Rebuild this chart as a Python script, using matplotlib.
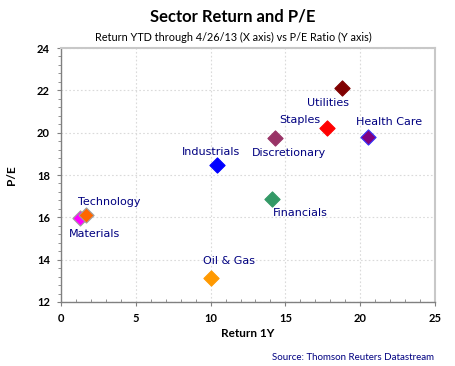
import matplotlib
matplotlib.use("Agg")
import matplotlib.pyplot as plt
from matplotlib.ticker import MultipleLocator

sectors = ["Materials", "Technology", "Industrials", "Oil & Gas", "Discretionary",
           "Financials", "Staples", "Utilities", "Health Care"]
ret_1y = [1.3, 1.7, 10.4, 10.0, 14.3, 14.1, 17.8, 18.8, 20.5]
pe = [15.95, 16.1, 18.45, 13.15, 19.75, 16.85, 20.2, 22.1, 19.8]
face_colors = ["#FF00FF", "#FF6600", "#0000FF", "#FF9900", "#993366",
               "#339966", "#FF0000", "#800000", "#800080"]
edge_colors = ["#A0A0A0", "#A0A0A0", "#0000FF", "#FF9900", "#993366",
               "#339966", "#FF0000", "#800000", "#3333FF"]
# label offsets in pixels (dx, dy) relative to each point
label_offsets = [(14, -16), (23, 13), (-6, 13), (18, 17), (14, -15),
                 (28, -14), (-27, 8), (-14, -15), (21, 15)]

title = "Sector Return and P/E"
subtitle = "Return YTD through 4/26/13 (X axis) vs P/E Ratio (Y axis)"
xlabel = "Return 1Y"
ylabel = "P/E"
source = "Source: Thomson Reuters Datastream"

fig = plt.figure(figsize=(4.55, 3.66), dpi=100)
ax = fig.add_axes([61/455, 1-302/366, (435-61)/455, (302-48)/366])

for x, y, fc, ec in zip(ret_1y, pe, face_colors, edge_colors):
    ax.scatter([x], [y], marker="D", s=60, facecolor=fc, edgecolor=ec,
               linewidth=0.8, zorder=3)

for name, x, y, (dx, dy) in zip(sectors, ret_1y, pe, label_offsets):
    ax.annotate(name, (x, y), xytext=(dx, dy), textcoords="offset pixels",
                ha="center", va="center", color="#000080", fontsize=8,
                family="DejaVu Sans")

ax.set_xlim(0, 25)
ax.set_ylim(12, 24)
ax.xaxis.set_major_locator(MultipleLocator(5))
ax.xaxis.set_minor_locator(MultipleLocator(1))
ax.yaxis.set_major_locator(MultipleLocator(2))
ax.yaxis.set_minor_locator(MultipleLocator(0.4))
ax.grid(True, which="major", color="#DADADA", linestyle=(0, (1.5, 2)), linewidth=0.8)
ax.set_axisbelow(True)

for s in ["top", "right"]:
    ax.spines[s].set_color("#C8C8C8")
    ax.spines[s].set_linewidth(1.5)
for s in ["left", "bottom"]:
    ax.spines[s].set_color("#808080")
    ax.spines[s].set_linewidth(1.0)

ax.tick_params(axis="both", which="major", length=3, width=0.8, color="#808080",
               direction="out", labelsize=8, pad=5)
ax.tick_params(axis="x", which="minor", length=2, width=0.6, color="#808080", direction="in")
ax.tick_params(axis="y", which="minor", length=2, width=0.6, color="#808080", direction="out")
for lbl in ax.get_xticklabels() + ax.get_yticklabels():
    lbl.set_fontweight("bold")
    lbl.set_family("Lato")

ax.set_xlabel(xlabel, fontsize=8.5, fontweight="bold", family="Lato", labelpad=3)
ax.set_ylabel(ylabel, fontsize=8.5, fontweight="bold", family="Lato", labelpad=14)

fig.text(233/455, 1-17/366, title, ha="center", va="center", fontsize=12,
         fontweight="bold", family="Lato")
fig.text(233/455, 1-37/366, subtitle, ha="center", va="center", fontsize=7.8,
         family="Lato")
fig.text(434/455, 1-358/366, source, ha="right", va="center", fontsize=7,
         color="#000080", family="Lato")

fig.savefig("out.png", dpi=100)
